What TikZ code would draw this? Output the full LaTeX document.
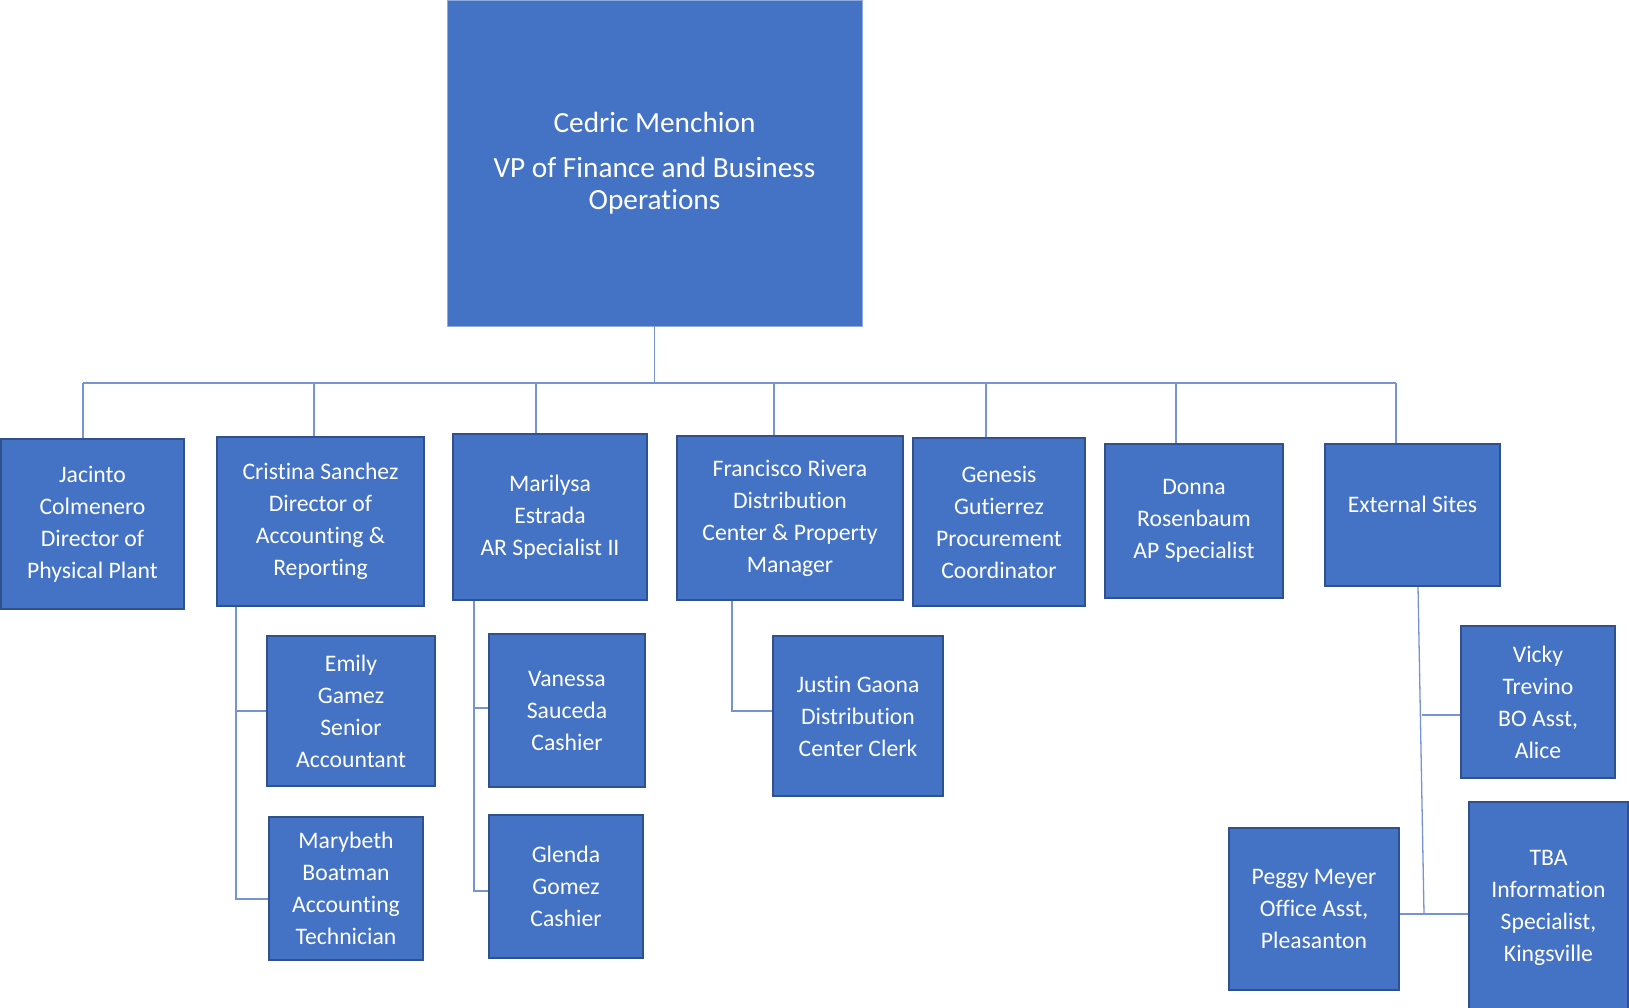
\documentclass[tikz,border=0pt]{standalone}
\usepackage{fontspec}
\setmainfont{Carlito}[Ligatures={NoCommon}]
\definecolor{boxfill}{RGB}{68,114,196}
\definecolor{boxline}{RGB}{47,82,143}
\definecolor{connc}{RGB}{118,148,212}
\definecolor{topline}{RGB}{143,170,220}
\begin{document}
\begin{tikzpicture}[x=1pt,y=-1pt,
  box/.style={draw=boxline, line width=1.6pt, fill=boxfill, text=white, align=center, inner sep=0pt, font=\fontsize{23.7}{32}\selectfont},
  conn/.style={draw=connc, line width=1.3pt}]
\useasboundingbox (0,0) rectangle (1629,1008);

% top
\node[box, draw=topline, line width=0.8pt, minimum width=415pt, minimum height=326pt, font=\fontsize{29.3}{32}\selectfont] (top) at (654.5,163) {Cedric Menchion\\[13pt]VP of Finance and Business\\Operations};

% second row
\node[box, minimum width=183pt, minimum height=170pt] (jac) at (92.5,524) {Jacinto\\Colmenero\\Director of\\Physical Plant};
\node[box, minimum width=207pt, minimum height=169pt] (cri) at (320.5,521.5) {Cristina Sanchez\\Director of\\Accounting \&\\Reporting};
\node[box, minimum width=194pt, minimum height=166pt] (mar) at (550,517) {Marilysa\\Estrada\\AR Specialist II};
\node[box, minimum width=226pt, minimum height=164pt] (fra) at (790,518) {Francisco Rivera\\Distribution\\Center \& Property\\Manager};
\node[box, minimum width=172pt, minimum height=168pt] (gen) at (999,522) {Genesis\\Gutierrez\\Procurement\\Coordinator};
\node[box, minimum width=178pt, minimum height=154pt] (don) at (1194,521) {Donna\\Rosenbaum\\AP Specialist};
\node[box, minimum width=175pt, minimum height=142pt, text depth=22pt] (ext) at (1412.5,515) {External Sites};

% third row
\node[box, minimum width=168pt, minimum height=150pt] (emi) at (351,711) {Emily\\Gamez\\Senior\\Accountant};
\node[box, minimum width=154pt, minimum height=143pt] (mary) at (346,888.5) {Marybeth\\Boatman\\Accounting\\Technician};
\node[box, minimum width=156pt, minimum height=153pt] (van) at (567,710.5) {Vanessa\\Sauceda\\Cashier};
\node[box, minimum width=154pt, minimum height=143pt] (gle) at (566,886.5) {Glenda\\Gomez\\Cashier};
\node[box, minimum width=170pt, minimum height=160pt] (jus) at (858,716) {Justin Gaona\\Distribution\\Center Clerk};
\node[box, minimum width=154pt, minimum height=152pt] (vic) at (1538,702) {Vicky\\Trevino\\BO Asst,\\Alice};
\node[box, minimum width=170pt, minimum height=162pt] (peg) at (1314,909) {Peggy Meyer\\Office Asst,\\Pleasanton};
\node[box, minimum width=159pt, minimum height=212pt] (tba) at (1548.5,908) {TBA\\Information\\Specialist,\\Kingsville};

% bus
\coordinate (b1) at (83,383);
\coordinate (b2) at (314,383);
\coordinate (b3) at (536,383);
\coordinate (b4) at (774,383);
\coordinate (b5) at (986,383);
\coordinate (b6) at (1176,383);
\coordinate (b7) at (1396,383);
\draw[conn] (top.south) -- (top.south |- b1);
\draw[conn] (b1) -- (b7);
\draw[conn] (b1) -- (b1 |- jac.north);
\draw[conn] (b2) -- (b2 |- cri.north);
\draw[conn] (b3) -- (b3 |- mar.north);
\draw[conn] (b4) -- (b4 |- fra.north);
\draw[conn] (b5) -- (b5 |- gen.north);
\draw[conn] (b6) -- (b6 |- don.north);
\draw[conn] (b7) -- (b7 |- ext.north);

% Cristina's reports
\coordinate (cv) at (236,899);
\draw[conn] (cv |- cri.south) -- (cv) -- (cv -| mary.west);
\draw[conn] (cv |- emi.west) -- (emi.west);

% Marilysa's reports
\coordinate (mv) at (474,891);
\coordinate (mb) at (474,708);
\draw[conn] (mv |- mar.south) -- (mv) -- (mv -| gle.west);
\draw[conn] (mb) -- (mb -| van.west);

% Francisco's report
\coordinate (fv) at (732,711);
\draw[conn] (fv |- fra.south) -- (fv) -- (fv -| jus.west);

% External sites
\coordinate (ex) at (1418,0);
\coordinate (eb) at (1424,914);
\coordinate (vb) at (1422,715);
\draw[conn] (ex |- ext.south) -- (eb);
\draw[conn] (vb) -- (vb -| vic.west);
\draw[conn] (eb -| peg.east) -- (eb -| tba.west);
\end{tikzpicture}
\end{document}
